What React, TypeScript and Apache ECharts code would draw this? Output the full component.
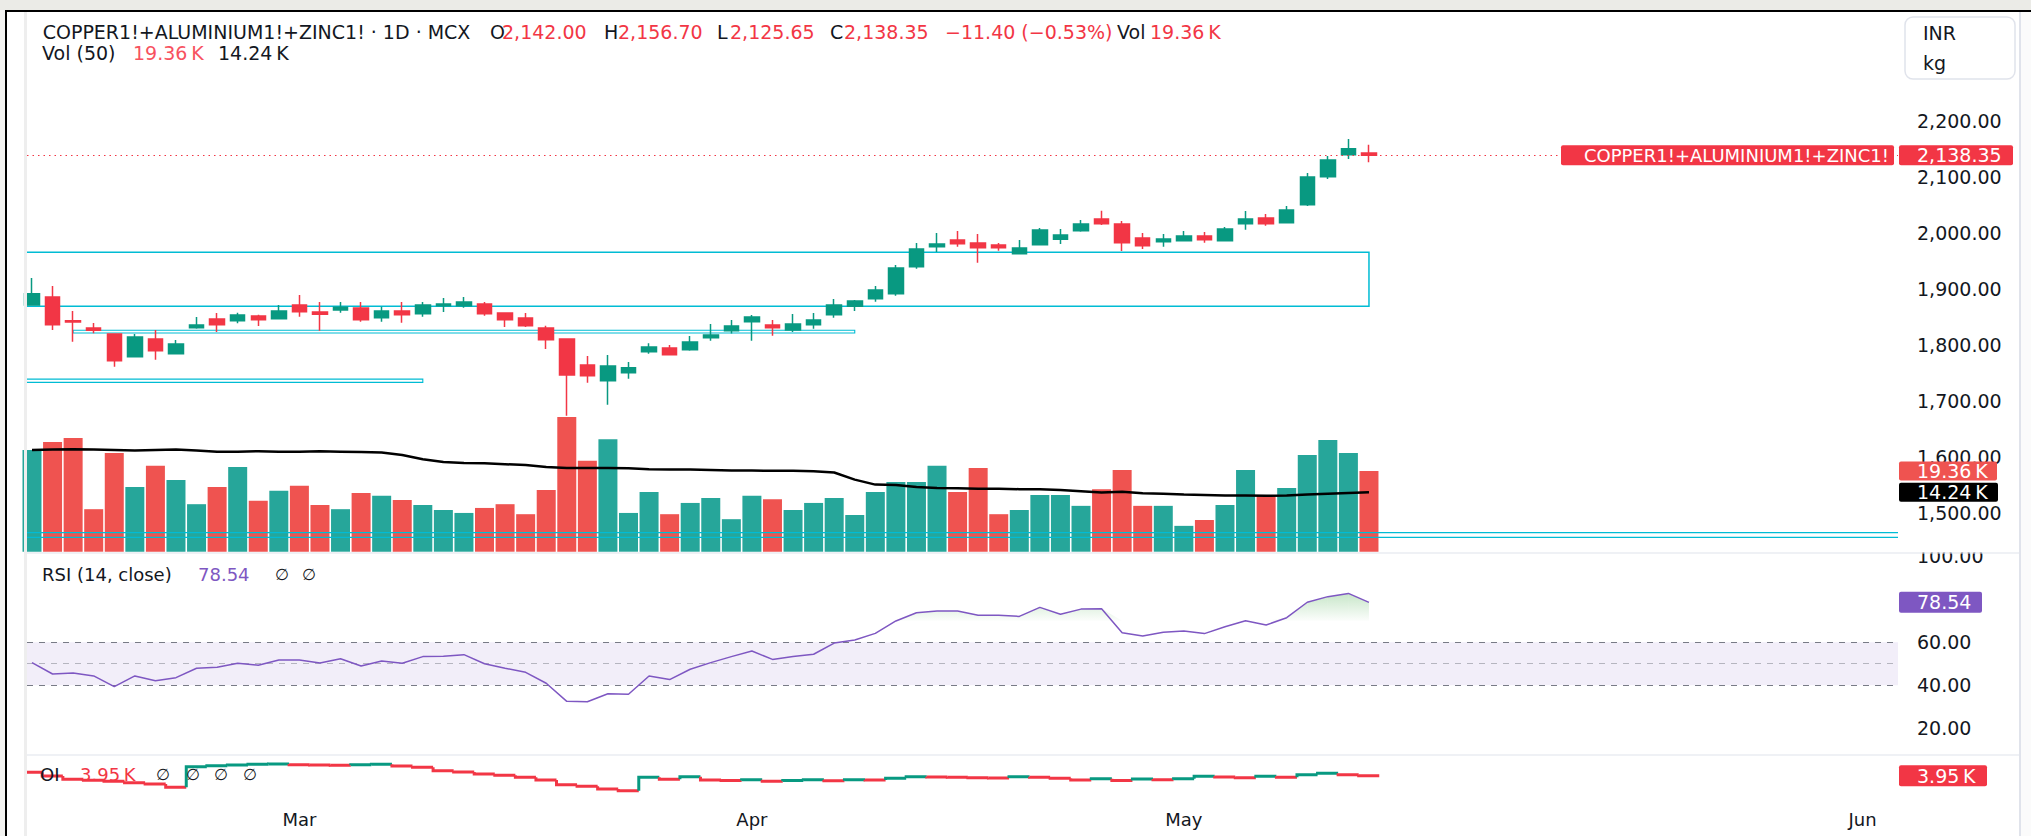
import { useEffect, useRef } from "react";
import * as echarts from "echarts";

// ---- data ----
const opens = [1871.3, 1885.6, 1843.4, 1830.4, 1819.7, 1779.3, 1810.8, 1784.7, 1831.0, 1846.4,
  1843.4, 1851.7, 1847.0, 1871.3, 1858.9, 1862.4, 1866.0, 1848.8, 1860.7, 1855.9,
  1870.2, 1870.2, 1873.1, 1857.1, 1848.2, 1830.4, 1810.8, 1764.5, 1736.6, 1750.8,
  1788.2, 1794.8, 1791.5, 1813.2, 1825.7, 1841.7, 1835.8, 1826.9, 1836.4, 1854.2,
  1869.0, 1882.7, 1891.6, 1939.7, 1975.3, 1987.2, 1981.8, 1978.3, 1962.8, 1978.9,
  1988.4, 2003.8, 2024.6, 2015.7, 1990.8, 1984.2, 1986.0, 1994.3, 1986.0, 2016.3,
  2026.4, 2018.0, 2050.1, 2100.0, 2139.2, 2142.0];
const closes = [1891.5, 1836.3, 1841.0, 1826.2, 1772.2, 1814.3, 1790.0, 1801.9, 1835.7, 1836.3,
  1853.5, 1845.2, 1860.7, 1859.5, 1854.7, 1867.2, 1845.2, 1860.7, 1854.1, 1871.3,
  1873.1, 1876.7, 1855.9, 1845.2, 1834.5, 1809.6, 1746.7, 1745.5, 1762.7, 1759.7,
  1796.5, 1782.9, 1805.5, 1818.0, 1834.0, 1850.1, 1831.0, 1837.6, 1844.7, 1871.4,
  1878.5, 1898.1, 1937.3, 1971.1, 1980.1, 1980.7, 1973.5, 1973.5, 1972.9, 2005.0,
  1996.1, 2015.7, 2016.3, 1982.4, 1977.1, 1989.0, 1994.3, 1987.8, 2006.8, 2024.6,
  2016.3, 2040.6, 2099.4, 2129.7, 2149.75, 2138.35];
const lows = [1870.0, 1826.8, 1806.0, 1820.9, 1761.5, 1778.7, 1774.0, 1784.1, 1829.2, 1823.3,
  1838.7, 1833.9, 1846.4, 1850.6, 1825.6, 1857.7, 1841.7, 1841.7, 1839.9, 1850.6,
  1858.9, 1866.6, 1852.3, 1832.2, 1832.2, 1793.0, 1674.2, 1733.0, 1693.8, 1740.1,
  1784.7, 1782.9, 1790.0, 1807.9, 1820.4, 1807.9, 1816.8, 1823.3, 1829.2, 1848.8,
  1860.7, 1877.3, 1888.0, 1936.1, 1965.8, 1975.3, 1946.8, 1968.2, 1962.2, 1978.3,
  1980.0, 2002.0, 2013.9, 1967.6, 1971.1, 1975.3, 1985.4, 1982.4, 1985.4, 2005.6,
  2012.7, 2017.5, 2047.7, 2095.8, 2131.4, 2125.65];
const highs = [1919.4, 1905.2, 1860.7, 1839.3, 1820.9, 1819.7, 1826.8, 1809.0, 1850.0, 1857.1,
  1857.7, 1854.1, 1871.3, 1889.1, 1876.7, 1876.7, 1876.7, 1868.4, 1876.7, 1876.7,
  1883.8, 1885.6, 1876.7, 1858.3, 1857.1, 1834.5, 1810.8, 1780.5, 1782.3, 1769.8,
  1803.1, 1800.1, 1816.1, 1837.6, 1844.7, 1853.6, 1844.7, 1855.4, 1857.2, 1882.1,
  1880.3, 1905.2, 1942.6, 1981.8, 1999.6, 2003.2, 1997.9, 1981.8, 1987.2, 2008.6,
  2006.8, 2022.8, 2039.4, 2021.0, 1999.6, 1997.9, 2003.2, 2001.4, 2010.3, 2038.8,
  2033.5, 2047.7, 2106.5, 2136.8, 2167.1, 2156.7];
const volumes = [24.4, 26.3, 27.3, 10.2, 23.7, 15.5, 20.6, 17.2, 11.4, 15.5,
  20.3, 12.2, 14.6, 15.8, 11.2, 10.2, 14.1, 13.4, 12.4, 11.2,
  10.0, 9.3, 10.5, 11.4, 9.0, 14.8, 32.3, 21.8, 27.0, 9.3,
  14.3, 9.0, 11.7, 12.9, 7.8, 13.4, 12.6, 10.0, 11.7, 12.9,
  8.8, 14.3, 16.7, 16.7, 20.6, 14.3, 20.1, 9.0, 10.0, 13.6,
  13.6, 11.0, 15.0, 19.6, 11.0, 11.0, 6.2, 7.6, 11.2, 19.6,
  13.6, 15.3, 23.2, 26.8, 23.7, 19.36];
const volMA = [24.4, 24.5, 24.6, 24.5, 24.4, 24.3, 24.4, 24.5, 24.3, 24.0,
  24.0, 24.1, 24.0, 24.0, 24.1, 24.0, 23.9, 23.8, 23.2, 22.2,
  21.5, 21.3, 21.2, 21.0, 20.8, 20.3, 20.1, 20.1, 20.1, 20.0,
  19.8, 19.7, 19.7, 19.6, 19.5, 19.5, 19.4, 19.4, 19.3, 19.0,
  17.3, 16.1, 16.0, 15.5, 15.3, 15.2, 15.1, 15.1, 15.0, 15.0,
  14.8, 14.5, 14.2, 14.4, 14.0, 13.9, 13.7, 13.6, 13.5, 13.5,
  13.4, 13.5, 13.7, 13.9, 14.1, 14.24];
const rsi = [50.5, 45.2, 45.7, 44.3, 39.3, 44.3, 42.1, 43.5, 47.9, 48.3,
  50.2, 49.3, 51.7, 51.7, 50.3, 52.3, 48.9, 51.3, 50.2, 53.3,
  53.5, 54.2, 50.0, 47.9, 46.0, 40.9, 32.5, 32.3, 36.0, 35.8,
  44.3, 42.6, 47.4, 50.5, 53.3, 55.9, 52.0, 53.3, 54.4, 59.6,
  61.0, 64.1, 69.9, 73.7, 74.5, 74.5, 72.5, 72.5, 72.0, 76.2,
  73.0, 75.4, 75.6, 64.4, 62.9, 64.6, 65.2, 64.0, 67.2, 70.0,
  68.0, 71.4, 78.6, 81.2, 82.7, 78.54];
const oi = [3.984, 3.947, 3.914, 3.904, 3.894, 3.880, 3.867, 3.834, 4.040, 4.050,
  4.057, 4.064, 4.067, 4.060, 4.057, 4.054, 4.060, 4.064, 4.047, 4.034,
  4.000, 3.986, 3.967, 3.954, 3.934, 3.907, 3.860, 3.844, 3.817, 3.800,
  3.934, 3.914, 3.940, 3.907, 3.903, 3.910, 3.894, 3.903, 3.910, 3.900,
  3.910, 3.907, 3.924, 3.940, 3.937, 3.934, 3.930, 3.927, 3.940, 3.934,
  3.924, 3.907, 3.920, 3.903, 3.917, 3.910, 3.920, 3.944, 3.937, 3.930,
  3.944, 3.934, 3.960, 3.974, 3.960, 3.950];
const monthLabels = ["Mar", "Apr", "May", "Jun"];
const monthIdx = [13, 35, 56, 89];
const priceTicks = [1500, 1600, 1700, 1800, 1900, 2000, 2100, 2200];
const rsiTicks = [20, 40, 60, 100];
const rsiOverbought = 70;
// drawn rectangles: [fromBar, toBar, topPrice, bottomPrice]
const boxes = [
  [-3, 65, 1965.2, 1869.0],
  [2, 40, 1826.4, 1821.6],
  [-3, 19, 1739.4, 1733.5],
  [-3, 95, 1465.9, 1457.4],
];

// ---- styles ----
const FONT = '"DejaVu Sans", Verdana, sans-serif';
const GREEN = "#089981";
const RED = "#F23645";
const VGREEN = "#26A69A";
const VRED = "#EF5350";
const PURPLE = "#7E57C2";
const CYAN = "#00BCD4";
const INK = "#131722";
const XMIN = -0.243;
const XMAX = 90.72;

const txt = (x: number, y: number, text: string, fill: string, size = 19, align = "left") => ({
  type: "text",
  x,
  y,
  z: 120,
  silent: true,
  style: {
    text,
    fill,
    font: `${size}px ${FONT}`,
    textAlign: align,
    textVerticalAlign: "middle",
    align,
    verticalAlign: "middle",
  },
});

const rect = (x: number, y: number, w: number, h: number, fill: string, z = 110, extra: any = {}) => ({
  type: "rect",
  z,
  silent: true,
  shape: { x, y, width: w, height: h, r: extra.r || 0 },
  style: { fill, stroke: extra.stroke, lineWidth: extra.lineWidth || 0 },
});

const fmtPrice = (v: number) =>
  v.toLocaleString("en-US", { minimumFractionDigits: 2, maximumFractionDigits: 2 });

export default function App() {
  const ref = useRef<HTMLDivElement>(null);

  useEffect(() => {
    if (!ref.current) return;
    const chart = echarts.init(ref.current, null, { renderer: "svg" });
    const n = closes.length;
    const L = 27;
    const R = 133;

    const xAxes = [0, 1, 2, 3].map((k) => ({
      type: "value",
      gridIndex: k,
      min: XMIN,
      max: XMAX,
      show: k === 3,
      axisLine: { show: false },
      axisTick: { show: false },
      splitLine: { show: false },
      axisLabel:
        k === 3
          ? {
              customValues: monthIdx,
              formatter: (v: number) => monthLabels[monthIdx.indexOf(Math.round(v))] || "",
              fontSize: 18,
              fontFamily: FONT,
              color: INK,
              margin: 10,
            }
          : { show: false },
    }));

    const option: any = {
      animation: false,
      backgroundColor: "#ffffff",
      textStyle: { fontFamily: FONT },
      grid: [
        { left: L, right: R, top: 11, bottom: 283 },
        { left: L, right: R, top: 385, bottom: 284.3 },
        { left: L, right: R, top: 553, bottom: 81 },
        { left: L, right: R, top: 755, bottom: 36 },
      ],
      xAxis: xAxes,
      yAxis: [
        {
          type: "value",
          gridIndex: 0,
          position: "right",
          min: 1429.6,
          max: 2395.1,
          splitLine: { show: false },
          axisLine: { show: false },
          axisTick: { show: false },
          axisLabel: {
            customValues: priceTicks,
            formatter: (v: number) => fmtPrice(v),
            align: "left",
            margin: 19,
            fontSize: 19,
            fontFamily: FONT,
            color: INK,
          },
        },
        { type: "value", gridIndex: 1, min: 0, max: 40, show: false },
        {
          type: "value",
          gridIndex: 2,
          position: "right",
          min: 7.53,
          max: 101.5,
          splitLine: { show: false },
          axisLine: { show: false },
          axisTick: { show: false },
          axisLabel: {
            customValues: rsiTicks,
            formatter: (v: number) => v.toFixed(2),
            align: "left",
            margin: 19,
            fontSize: 19,
            fontFamily: FONT,
            color: INK,
          },
        },
        { type: "value", gridIndex: 3, min: 3.707, max: 4.157, show: false },
      ],
      series: [
        {
          type: "bar",
          name: "Volume",
          xAxisIndex: 1,
          yAxisIndex: 1,
          barWidth: 19,
          z: 1,
          silent: true,
          data: volumes.map((v, i) => ({
            value: [i, v],
            itemStyle: { color: closes[i] >= opens[i] ? VGREEN : VRED },
          })),
        },
        {
          type: "custom",
          name: "Boxes",
          xAxisIndex: 0,
          yAxisIndex: 0,
          clip: true,
          z: 3,
          silent: true,
          data: boxes,
          renderItem: (params: any, api: any) => {
            const p1 = api.coord([api.value(0), api.value(2)]);
            const p2 = api.coord([api.value(1), api.value(3)]);
            return {
              type: "rect",
              shape: { x: p1[0], y: p1[1], width: p2[0] - p1[0], height: p2[1] - p1[1] },
              style: { fill: "none", stroke: CYAN, lineWidth: params.dataIndex === 0 ? 1.5 : 1.1 },
            };
          },
        },
        {
          type: "candlestick",
          name: "Price",
          xAxisIndex: 0,
          yAxisIndex: 0,
          z: 4,
          barWidth: 15,
          silent: true,
          data: opens.map((o, i) => [i, o, closes[i], lows[i], highs[i]]),
          itemStyle: {
            color: GREEN,
            color0: RED,
            borderColor: GREEN,
            borderColor0: RED,
            borderWidth: 1.5,
          },
          markLine: {
            silent: true,
            symbol: ["none", "none"],
            label: { show: false },
            lineStyle: { color: RED, width: 1, type: [1.5, 4] },
            data: [{ yAxis: closes[n - 1] }],
          },
        },
        {
          type: "line",
          name: "Vol MA",
          xAxisIndex: 1,
          yAxisIndex: 1,
          z: 5,
          silent: true,
          showSymbol: false,
          data: volMA.map((v, i) => [i, v]),
          lineStyle: { color: "#000000", width: 2.5 },
        },
        {
          type: "custom",
          name: "RSI overbought fill",
          xAxisIndex: 2,
          yAxisIndex: 2,
          clip: true,
          silent: true,
          z: 4,
          data: rsi.map((v, i) => [i, v]),
          renderItem: (params: any, api: any) => {
            const i = params.dataIndex;
            if (i >= rsi.length - 1) return null;
            const a = Math.max(rsi[i], rsiOverbought);
            const b = Math.max(rsi[i + 1], rsiOverbought);
            if (a <= rsiOverbought && b <= rsiOverbought) return null;
            const p1 = api.coord([i, a]);
            const p2 = api.coord([i + 1, b]);
            const p3 = api.coord([i + 1, rsiOverbought]);
            const p4 = api.coord([i, rsiOverbought]);
            const yTop = api.coord([0, 84])[1];
            return {
              type: "polygon",
              shape: { points: [p1, p2, p3, p4] },
              style: {
                fill: new echarts.graphic.LinearGradient(
                  0,
                  yTop,
                  0,
                  p4[1],
                  [
                    { offset: 0, color: "rgba(76,175,80,0.34)" },
                    { offset: 1, color: "rgba(76,175,80,0.02)" },
                  ],
                  true
                ),
                stroke: "none",
              },
            };
          },
        },
        {
          type: "line",
          name: "RSI",
          xAxisIndex: 2,
          yAxisIndex: 2,
          z: 6,
          silent: true,
          showSymbol: false,
          data: rsi.map((v, i) => [i, v]),
          lineStyle: { color: PURPLE, width: 1.5 },
          markArea: {
            silent: true,
            itemStyle: { color: "rgba(126,87,194,0.1)" },
            data: [[{ yAxis: 40 }, { yAxis: 60 }]],
          },
          markLine: {
            silent: true,
            symbol: ["none", "none"],
            label: { show: false },
            lineStyle: { color: "#787B86", width: 1, type: [6, 6] },
            data: [
              { yAxis: 60 },
              { yAxis: 50, lineStyle: { color: "#787B86", opacity: 0.5, width: 1, type: [6, 6] } },
              { yAxis: 40 },
            ],
          },
        },
        {
          type: "custom",
          name: "OI",
          xAxisIndex: 3,
          yAxisIndex: 3,
          clip: true,
          silent: true,
          data: oi.map((v, i) => [i, v]),
          renderItem: (params: any, api: any) => {
            const i = params.dataIndex;
            const x = api.value(0);
            const v = api.value(1);
            const prev = i > 0 ? oi[i - 1] : v + 0.001;
            const color = v > prev ? GREEN : RED;
            const a = api.coord([x - 0.5, prev]);
            const b = api.coord([x - 0.5, v]);
            const c = api.coord([x + 0.5, v]);
            return {
              type: "polyline",
              shape: { points: [a, b, c] },
              style: { stroke: color, lineWidth: 3, fill: "none" },
            };
          },
        },
      ],
    };

    chart.setOption(option);

    const py = (g: number, v: number) => chart.convertToPixel({ gridIndex: g } as any, [0, v])[1];
    const yPrice = py(0, closes[n - 1]);
    const yVol = py(1, volumes[n - 1]);
    const yMA = py(1, volMA[n - 1]);
    const yRsi = py(2, rsi[n - 1]);
    const yOi = py(3, oi[n - 1]);
    const kfmt = (v: number) => `${v.toFixed(2)}\u2009K`;

    const graphics: any[] = [
      // frame
      rect(0, 0, 2031, 10, "#ebebe7"),
      rect(0, 10, 5, 826, "#f3f3f1"),
      rect(5, 10, 2026, 2, "#000000", 112),
      rect(5, 10, 2, 826, "#000000", 112),
      rect(24, 12, 3, 824, "#eeeeee"),
      rect(2019, 12, 2, 824, "#e0e3eb"),
      rect(2021, 12, 10, 824, "#fbfbfb"),
      rect(1899, 538, 119, 14.5, "#ffffff", 111),
      rect(27, 552.5, 1992, 1, "#e0e3eb", 113),
      rect(27, 754.5, 1992, 1, "#e0e3eb", 113),
      // currency / unit box
      rect(1905, 17, 110, 62, "#ffffff", 110, { r: 8, stroke: "#e0e3eb", lineWidth: 1.5 }),
      txt(1923, 33, "INR", INK),
      txt(1923, 63, "kg", INK),
      // header line 1
      txt(42.7, 32, "COPPER1!+ALUMINIUM1!+ZINC1! · 1D · MCX", INK),
      txt(490, 32, "O", INK),
      txt(502, 32, fmtPrice(opens[n - 1]), RED),
      txt(604, 32, "H", INK),
      txt(618, 32, fmtPrice(highs[n - 1]), RED),
      txt(717, 32, "L", INK),
      txt(730, 32, fmtPrice(lows[n - 1]), RED),
      txt(830, 32, "C", INK),
      txt(844, 32, fmtPrice(closes[n - 1]), RED),
      txt(945, 32, "−11.40 (−0.53%)", RED),
      txt(1117, 32, "Vol", INK),
      txt(1150, 32, "19.36\u2009K", RED),
      // header line 2
      txt(42, 53, "Vol (50)", INK),
      txt(133, 53, kfmt(volumes[n - 1]), "#F7525F"),
      txt(218, 53, kfmt(volMA[n - 1]), INK),
      // RSI legend
      txt(42, 574, "RSI (14, close)", INK, 18),
      txt(198, 574, rsi[n - 1].toFixed(2), PURPLE, 18),
      txt(275, 574, "∅", INK, 16),
      txt(302, 574, "∅", INK, 16),
      // OI legend
      txt(40, 774, "OI", INK, 18),
      txt(80, 774, kfmt(oi[n - 1]), RED, 18),
      txt(156, 774, "∅", INK, 16),
      txt(186, 774, "∅", INK, 16),
      txt(214, 774, "∅", INK, 16),
      txt(243, 774, "∅", INK, 16),
      // price tags
      rect(1561, yPrice - 10, 333, 20, RED, 114, { r: 2 }),
      txt(1889, yPrice, "COPPER1!+ALUMINIUM1!+ZINC1!", "#ffffff", 18, "right"),
      rect(1899, yPrice - 10, 114, 20, RED, 114, { r: 2 }),
      txt(1917, yPrice, fmtPrice(closes[n - 1]), "#ffffff", 19),
      rect(1899, yVol - 9.5, 98, 19, VRED, 114, { r: 2 }),
      txt(1917, yVol, kfmt(volumes[n - 1]), "#ffffff", 19),
      rect(1899, yMA - 9.5, 99, 19, "#000000", 114, { r: 2 }),
      txt(1917, yMA, kfmt(volMA[n - 1]), "#ffffff", 19),
      rect(1899, yRsi - 10.5, 83, 21, PURPLE, 114, { r: 2 }),
      txt(1917, yRsi, rsi[n - 1].toFixed(2), "#ffffff", 19),
      rect(1899, yOi - 10.5, 88, 21, RED, 114, { r: 2 }),
      txt(1917, yOi, kfmt(oi[n - 1]), "#ffffff", 19),
    ];

    chart.setOption({ graphic: graphics });

    return () => chart.dispose();
  }, []);

  return (
    <div
      ref={ref}
      style={{ position: "fixed", left: 0, top: 0, width: 2031, height: 836, background: "#ffffff" }}
    />
  );
}
